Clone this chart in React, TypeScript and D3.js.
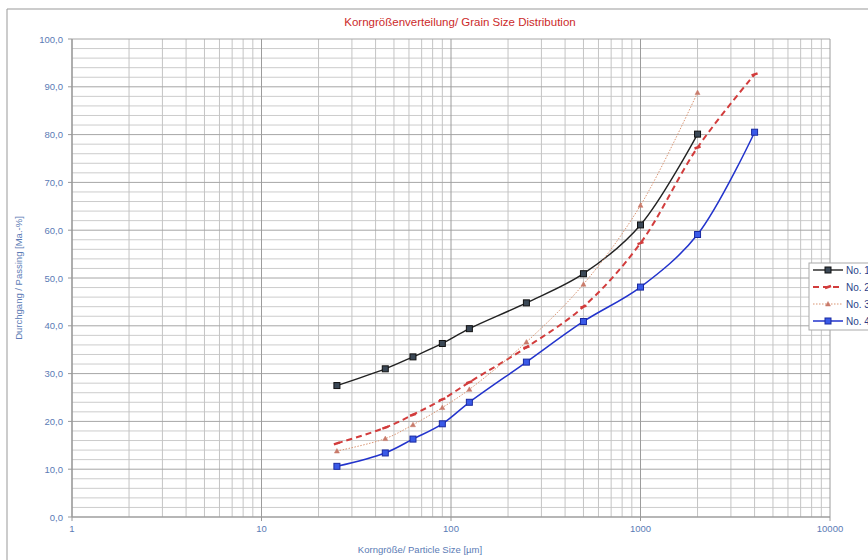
import React from 'react';
import * as d3 from 'd3';

const sizes = [25, 45, 63, 90, 125, 250, 500, 1000, 2000, 4000];
const no1 = [27.5, 31.0, 33.5, 36.3, 39.4, 44.8, 50.9, 61.1, 80.1];
const no2 = [15.4, 18.7, 21.4, 24.6, 28.2, 35.5, 44.0, 57.3, 77.3, 92.6];
const no3 = [13.8, 16.4, 19.3, 22.9, 26.7, 36.6, 48.7, 65.2, 88.8];
const no4 = [10.6, 13.4, 16.3, 19.5, 24.0, 32.4, 40.9, 48.1, 59.1, 80.5];
const seriesNames = ['No. 1', 'No. 2', 'No. 3', 'No. 4'];
const xTicks = [1, 10, 100, 1000, 10000];
const yTicks = [0, 10, 20, 30, 40, 50, 60, 70, 80, 90, 100];

const styles = [
  { stroke: '#222222', width: 1.4, dash: null, marker: 'square', fill: '#3b4856', mstroke: '#111' },
  { stroke: '#d23c3c', width: 2, dash: '6,4', marker: 'dash', fill: '#d23c3c', mstroke: '#d23c3c' },
  { stroke: '#d99472', width: 1, dash: '1.5,1.5', marker: 'tri', fill: '#c97a6a', mstroke: '#c97a6a' },
  { stroke: '#2233cc', width: 1.5, dash: null, marker: 'square', fill: '#3a5ae8', mstroke: '#1a2aa0' },
];

const left = 72, right = 830, top = 39, bottom = 517;
const tickColor = '#5b7bb5';

function Marker({ type, x, y, fill, stroke }: any) {
  if (type === 'square') {
    return <rect x={x - 3} y={y - 3} width={6} height={6} fill={fill} stroke={stroke} strokeWidth={1} />;
  }
  if (type === 'tri') {
    return <path d={`M${x},${y - 2.5}L${x + 2.5},${y + 2}L${x - 2.5},${y + 2}Z`} fill={fill} stroke={stroke} strokeWidth={0.5} />;
  }
  return <path d={`M${x - 3},${y + 1}L${x + 3},${y - 1}`} stroke={stroke} strokeWidth={2.5} />;
}

export default function App() {
  const x = d3.scaleLog().domain([1, 10000]).range([left, right]);
  const y = d3.scaleLinear().domain([0, 100]).range([bottom, top]);
  const data = [no1, no2, no3, no4];

  const line = d3.line<[number, number]>()
    .x(d => x(d[0]))
    .y(d => y(d[1]))
    .curve(d3.curveCatmullRom.alpha(0.5));

  const minorX: number[] = [];
  for (let dec = 1; dec < 10000; dec *= 10) {
    for (let k = 2; k <= 9; k++) minorX.push(dec * k);
  }
  const minorY = d3.range(0, 101, 2).filter(v => v % 10 !== 0);

  return (
    <svg width={868} height={560} style={{ position: 'absolute', left: 0, top: 0 }} fontFamily="Arial, 'Liberation Sans', sans-serif">
      <rect x={0} y={0} width={868} height={560} fill="#fff" />
      <line x1={7} x2={868} y1={9} y2={9} stroke="#999" />
      <line x1={7} x2={7} y1={9} y2={560} stroke="#999" />

      <text x={460} y={26} textAnchor="middle" fontSize={11.5} fill="#cc2a2a">
        Korngrößenverteilung/  Grain Size Distribution
      </text>

      {minorY.map(v => (
        <line key={'my' + v} x1={left} x2={right} y1={y(v)} y2={y(v)} stroke="#cccccc" strokeWidth={1} />
      ))}
      {minorX.map(v => (
        <line key={'mx' + v} x1={x(v)} x2={x(v)} y1={top} y2={bottom} stroke="#c4c4c4" strokeWidth={1} />
      ))}
      {yTicks.map(v => (
        <line key={'gy' + v} x1={left} x2={right} y1={y(v)} y2={y(v)} stroke="#a6a6a6" strokeWidth={1} />
      ))}
      {xTicks.map(v => (
        <line key={'gx' + v} x1={x(v)} x2={x(v)} y1={top} y2={bottom} stroke="#9c9c9c" strokeWidth={1} />
      ))}
      <line x1={left} x2={right} y1={bottom} y2={bottom} stroke="#999" strokeWidth={1.2} />
      <line x1={left} x2={left} y1={top} y2={bottom} stroke="#999" strokeWidth={1.2} />

      {yTicks.map(v => (
        <g key={'ty' + v}>
          <line x1={left - 4} x2={left} y1={y(v)} y2={y(v)} stroke="#999" />
          <text x={left - 9} y={y(v) + 3.5} textAnchor="end" fontSize={9.5} fill={tickColor}>
            {d3.format('.1f')(v).replace('.', ',')}
          </text>
        </g>
      ))}
      {xTicks.map(v => (
        <g key={'tx' + v}>
          <line x1={x(v)} x2={x(v)} y1={bottom} y2={bottom + 4} stroke="#999" />
          <text x={x(v)} y={bottom + 15} textAnchor="middle" fontSize={9.5} fill={tickColor}>{v}</text>
        </g>
      ))}

      <text transform={`translate(22,${(top + bottom) / 2}) rotate(-90)`} textAnchor="middle" fontSize={9.5} fill={tickColor}>
        Durchgang / Passing [Ma.-%]
      </text>
      <text x={420} y={553} textAnchor="middle" fontSize={9.5} fill={tickColor}>
        Korngröße/ Particle Size [µm]
      </text>

      {data.map((vals, i) => {
        const pts = vals.map((v, j) => [sizes[j], v] as [number, number]);
        const s = styles[i];
        return (
          <g key={'s' + i}>
            <path d={line(pts) || ''} fill="none" stroke={s.stroke} strokeWidth={s.width} strokeDasharray={s.dash || undefined} />
            {pts.map((p, j) => (
              <Marker key={j} type={s.marker} x={x(p[0])} y={y(p[1])} fill={s.fill} stroke={s.mstroke} />
            ))}
          </g>
        );
      })}

      <rect x={809} y={263} width={70} height={67} fill="#fff" stroke="#aaa" />
      {seriesNames.map((name, i) => {
        const s = styles[i];
        const ly = 270 + i * 17;
        return (
          <g key={'l' + i}>
            <line x1={813} x2={843} y1={ly} y2={ly} stroke={s.stroke} strokeWidth={s.width} strokeDasharray={s.dash || undefined} />
            <Marker type={s.marker} x={828} y={ly} fill={s.fill} stroke={s.mstroke} />
            <text x={846} y={ly + 3.5} fontSize={10} fill="#2b3f8a">{name}</text>
          </g>
        );
      })}
    </svg>
  );
}
